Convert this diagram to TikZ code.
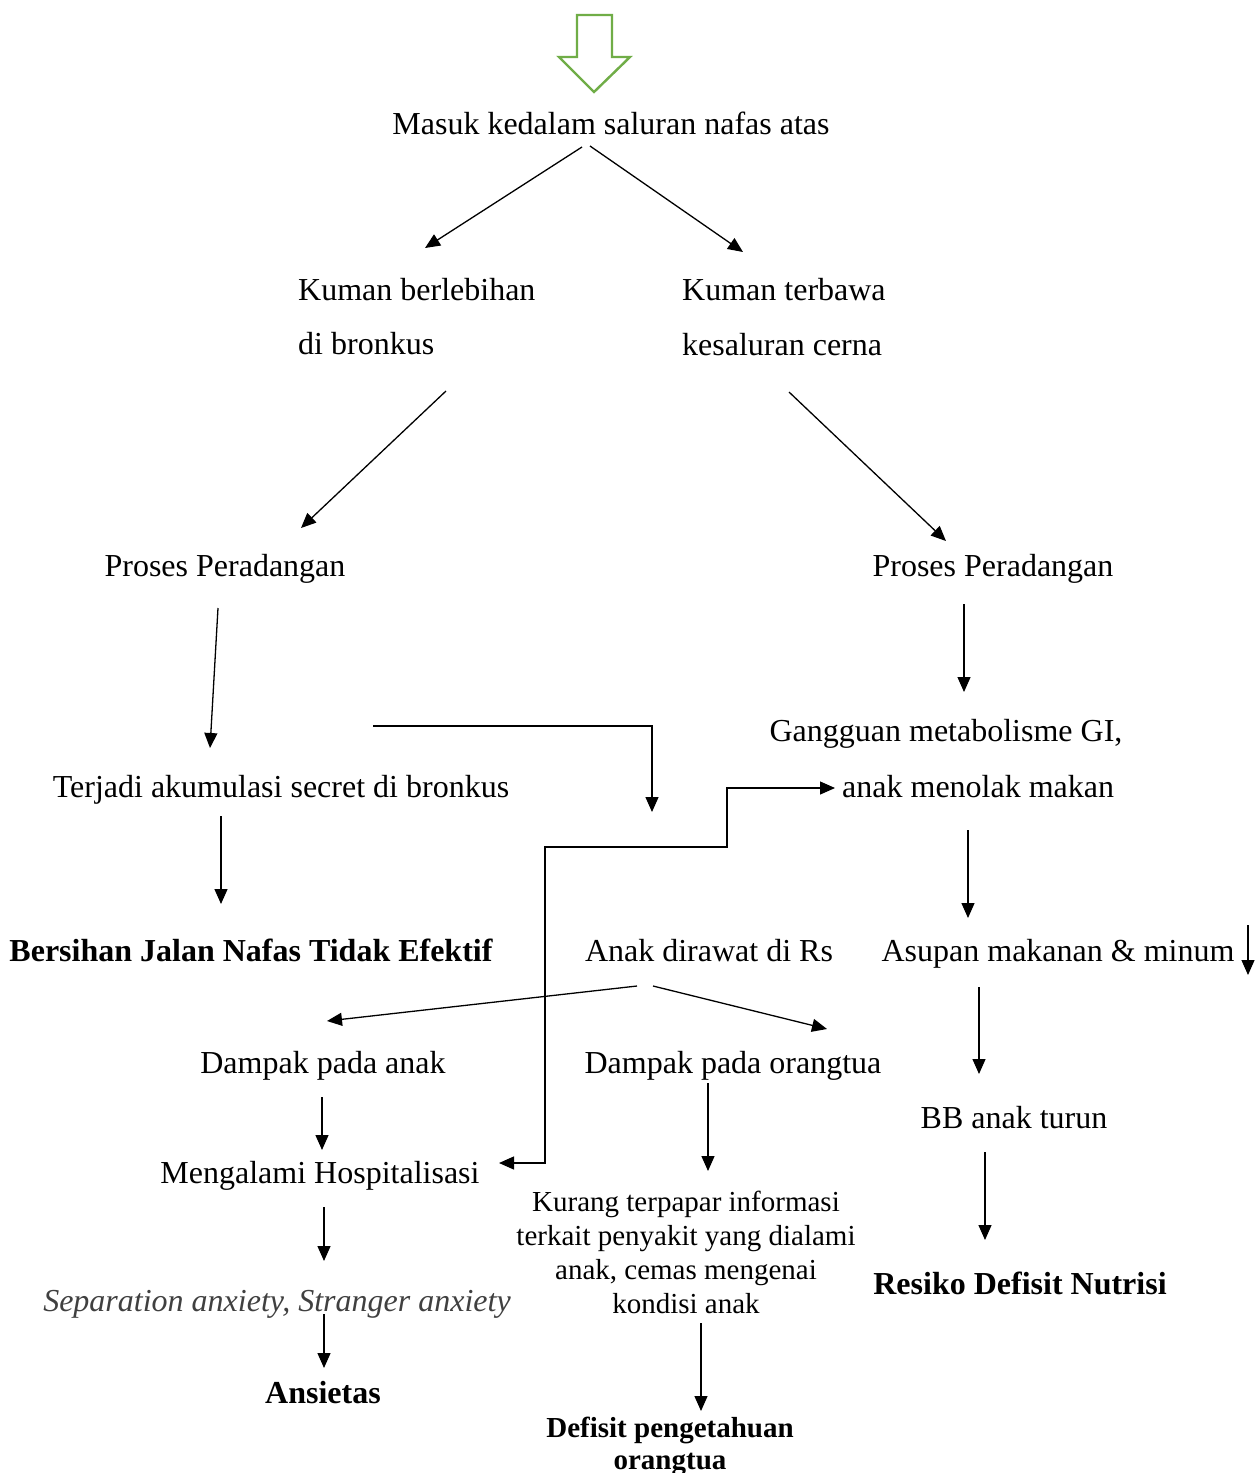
\documentclass[tikz,border=0pt]{standalone}
\usepackage{fontspec}
\setmainfont{Liberation Serif}
\usetikzlibrary{arrows.meta}
\definecolor{arrowgreen}{HTML}{70AD47}
\definecolor{italicgray}{HTML}{404040}
\begin{document}
\begin{tikzpicture}[x=1pt,y=-1pt,
  txt/.style={inner sep=0pt,anchor=base,font=\fontsize{32}{38}\selectfont},
  txtl/.style={inner sep=0pt,anchor=base west,font=\fontsize{32}{38}\selectfont},
  bld/.style={inner sep=0pt,anchor=base,font=\fontsize{32}{38}\selectfont\bfseries},
  small/.style={inner sep=0pt,anchor=north,align=center,font=\fontsize{29}{34}\selectfont},
  smallbold/.style={inner sep=0pt,anchor=north,align=center,font=\fontsize{29}{32}\selectfont\bfseries},
  arr/.style={line width=1.3pt,-{Triangle[length=15pt,width=13pt]}},
  arrtwo/.style={line width=1.3pt,{Triangle[length=15pt,width=13pt]}-{Triangle[length=15pt,width=13pt]}},
  plain/.style={line width=1.3pt}]
\useasboundingbox (0,0) rectangle (1257,1473);
\fill[white] (0,0) rectangle (1257,1473);

% green hollow arrow
\draw[arrowgreen,line width=2.4pt,line join=miter]
  (577,15) -- (612,15) -- (612,57) -- (630,57) -- (594,92) -- (559,57) -- (577,57) -- cycle;

% nodes
\node[txt] (masuk) at (611,134) {Masuk kedalam saluran nafas atas};
\node[txtl] (kb) at (298,300) {Kuman berlebihan};
\node[txtl] (kbb) at (298,354) {di bronkus};
\node[txtl] (kt) at (682,300) {Kuman terbawa};
\node[txtl] (ktb) at (682,355) {kesaluran cerna};
\node[txt] (ppa) at (225,576) {Proses Peradangan};
\node[txt] (ppb) at (993,576) {Proses Peradangan};
\node[txt] (gga) at (946,741) {Gangguan metabolisme GI,};
\node[txtl] (ggb) at (842,797) {anak menolak makan};
\node[txt] (tj) at (281,797) {Terjadi akumulasi secret di bronkus};
\node[bld] (bj) at (251,961) {Bersihan Jalan Nafas Tidak Efektif};
\node[txt] (ad) at (709,961) {Anak dirawat di Rs};
\node[txt] (as) at (1058,961) {Asupan makanan \& minum};
\node[txt] (dpa) at (323,1073) {Dampak pada anak};
\node[txt] (dpo) at (733,1073) {Dampak pada orangtua};
\node[txt] (bb) at (1014,1128) {BB anak turun};
\node[txt] (mh) at (320,1183) {Mengalami Hospitalisasi};
\node[small] (kr) at (686,1191) {Kurang terpapar informasi\\terkait penyakit yang dialami\\anak, cemas mengenai\\kondisi anak};
\node[bld] (rd) at (1020,1294) {Resiko Defisit Nutrisi};
\node[txt,text=italicgray,font=\fontsize{32}{38}\selectfont\itshape] (sa) at (277,1311) {Separation anxiety, Stranger anxiety};
\node[bld] (an) at (323,1403) {Ansietas};
\node[smallbold] (dp) at (670,1417) {Defisit pengetahuan\\orangtua};

% connectors
\draw[arr] ([shift={(-29,13)}]masuk.base) -- ([shift={(127,-52)}]kb.base west);
\draw[arr] ([shift={(-21,12)}]masuk.base) -- ([shift={(61,-48)}]kt.base west);
\draw[arr] ([shift={(148,37)}]kbb.base west) -- ([shift={(76,-48)}]ppa.base);
\draw[arr] ([shift={(107,37)}]ktb.base west) -- ([shift={(-47,-35)}]ppb.base);
\draw[arr] ([shift={(-7,32)}]ppa.base) -- ([shift={(-71,-49)}]tj.base);
\draw[arr] ([shift={(-29,28)}]ppb.base) -- ([shift={(18,-49)}]gga.base);
\draw[arr] ([shift={(92,-71)}]tj.base) -| ([shift={(-57,-149)}]ad.base);
\draw[arrtwo] ([shift={(179,-20)}]mh.base) -- ++(46,0) -- ++(0,-316) -- ++(182,0) -- ++(0,-59)
  -- ([shift={(-7,-9)}]ggb.base west);
\draw[arr] ([shift={(-60,19)}]tj.base) -- ([shift={(-30,-57)}]bj.base);
\draw[arr] ([shift={(126,33)}]ggb.base west) -- ([shift={(-90,-43)}]as.base);
\draw[arr] ([shift={(190,-36)}]as.base) -- ([shift={(190,14)}]as.base);
\draw[arr] ([shift={(-72,25)}]ad.base) -- ([shift={(4,-52)}]dpa.base);
\draw[arr] ([shift={(-56,25)}]ad.base) -- ([shift={(94,-44)}]dpo.base);
\draw[arr] ([shift={(-79,26)}]as.base) -- ([shift={(-35,-54)}]bb.base);
\draw[arr] ([shift={(-1,24)}]dpa.base) -- ([shift={(2,-33)}]mh.base);
\draw[arr] ([shift={(-25,10)}]dpo.base) -- ([shift={(22,-20)}]kr.north);
\draw[arr] ([shift={(-29,24)}]bb.base) -- ([shift={(-35,-54)}]rd.base);
\draw[arr] ([shift={(4,24)}]mh.base) -- ([shift={(47,-50)}]sa.base);
\draw[arr] ([shift={(47,3)}]sa.base) -- ([shift={(1,-35)}]an.base);
\draw[arr] ([shift={(15,132)}]kr.north) -- ([shift={(31,-6)}]dp.north);
\end{tikzpicture}
\end{document}
